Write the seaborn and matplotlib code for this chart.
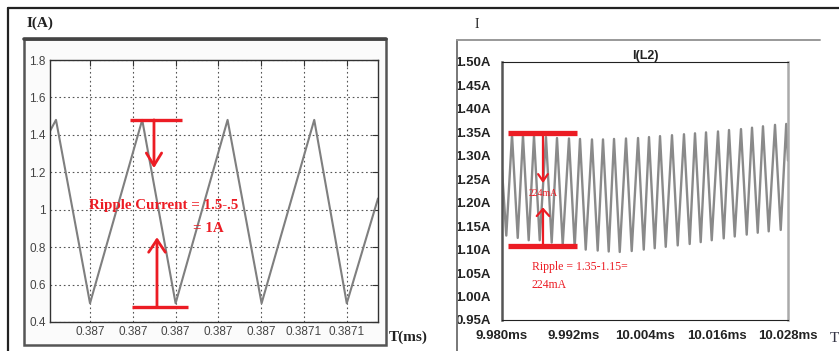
import matplotlib
matplotlib.use("Agg")
import numpy as np
import pandas as pd
import seaborn as sns
import matplotlib.pyplot as plt
from matplotlib.lines import Line2D
from matplotlib.patches import Rectangle

# ---- left panel: inductor current (A) vs time (ms)
left_t = [0.3869413, 0.3869441, 0.3869600, 0.3869844, 0.3870000,
          0.3870243, 0.3870402, 0.3870648, 0.3870800, 0.3870946]
left_i = [1.42, 1.48, 0.50, 1.48, 0.50, 1.48, 0.50, 1.48, 0.50, 1.06]
left_xticks = [0.38696, 0.38698, 0.38700, 0.38702, 0.38704, 0.38706, 0.38708]
left_xlabels = ["0.387", "0.387", "0.387", "0.387", "0.387", "0.3871", "0.3871"]
left_yticks = [0.4, 0.6, 0.8, 1.0, 1.2, 1.4, 1.6, 1.8]
left_ylabels = ["0.4", "0.6", "0.8", "1", "1.2", "1.4", "1.6", "1.8"]

# ---- right panel: I(L2) vs time (ms)
peak_t = [9.98168, 9.98352, 9.98537, 9.98738, 9.98923, 9.99124, 9.99309,
          9.99510, 9.99695, 9.99880, 10.00081, 10.00283, 10.00467, 10.00652,
          10.00853, 10.01054, 10.01239, 10.01424, 10.01625, 10.01810,
          10.02011, 10.02196, 10.02380, 10.02582, 10.02770]
peak_i = [1.345, 1.343, 1.342, 1.340, 1.338, 1.337, 1.336, 1.335, 1.335,
          1.336, 1.337, 1.338, 1.340, 1.342, 1.344, 1.346, 1.348, 1.350,
          1.352, 1.355, 1.357, 1.360, 1.363, 1.366, 1.368]
trough_t = [9.98072, 9.98264, 9.98448, 9.98633, 9.98834, 9.99019, 9.99220,
            9.99405, 9.99606, 9.99791, 9.99976, 10.00177, 10.00379, 10.00563,
            10.00748, 10.00949, 10.01150, 10.01335, 10.01520, 10.01721,
            10.01906, 10.02107, 10.02292, 10.02476, 10.02678]
trough_i = [1.130, 1.125, 1.120, 1.120, 1.115, 1.110, 1.105, 1.100, 1.098,
            1.096, 1.095, 1.097, 1.100, 1.103, 1.106, 1.109, 1.112, 1.116,
            1.120, 1.124, 1.128, 1.132, 1.136, 1.139, 1.142]
right_start = (9.98000, 1.27)
right_end = (10.02800, 1.29)
right_xticks = [9.980, 9.992, 10.004, 10.016, 10.028]
right_xlabels = ["9.980ms", "9.992ms", "10.004ms", "10.016ms", "10.028ms"]
right_yticks = [0.95, 1.00, 1.05, 1.10, 1.15, 1.20, 1.25, 1.30, 1.35, 1.40, 1.45, 1.50]
right_ylabels = ["%.2fA" % v for v in right_yticks]

left_df = pd.DataFrame({"t": left_t, "i": left_i})
right_df = pd.DataFrame({"t": peak_t + trough_t + [right_start[0], right_end[0]],
                         "i": peak_i + trough_i + [right_start[1], right_end[1]]})
right_df = right_df.sort_values("t")

sns.set_style("white")
plt.rcParams["font.family"] = ["Liberation Sans", "DejaVu Sans"]

RED = "#ec1c24"
SERIF = ["Liberation Serif", "DejaVu Serif"]

fig = plt.figure(figsize=(8.39, 3.51), dpi=100)

def fx(px):
    return px / 839.0

def fy(py):
    return 1 - py / 351.0

# outer frame lines
fig.add_artist(Line2D([fx(8), 1], [fy(8), fy(8)], color="#222", lw=1.6))
fig.add_artist(Line2D([fx(8), fx(8)], [fy(8), 0], color="#222", lw=1.6))
# left gray box (behind the axes)
box = Rectangle((fx(24), fy(345)), fx(362), (345 - 39) / 351.0,
                facecolor="#fbfbfb", edgecolor="#555", lw=1.8, zorder=-2)
fig.add_artist(box)
fig.add_artist(Line2D([fx(24), fx(386)], [fy(39), fy(39)], color="#444", lw=2.6, zorder=-1))
# right panel frame
fig.add_artist(Line2D([fx(457), fx(457)], [fy(40), 0], color="#777", lw=1.4))
fig.add_artist(Line2D([fx(457), fx(820)], [fy(40), fy(40)], color="#999", lw=1.4))

# ================= left axes =================
ax1 = fig.add_axes([fx(50), fy(322), fx(328), 262 / 351.0])
sns.lineplot(data=left_df, x="t", y="i", ax=ax1, color="#7f7f7f", lw=1.5, sort=False)
ax1.set_xlim(left_t[0], left_t[-1])
ax1.set_ylim(0.4, 1.8)
ax1.set_xticks(left_xticks)
ax1.set_xticklabels(left_xlabels)
ax1.set_yticks(left_yticks)
ax1.set_yticklabels(left_ylabels)
ax1.grid(True, linestyle=(0, (1.5, 2.5)), color="#555", lw=0.8)
ax1.tick_params(direction="in", length=4, top=True, right=True, labelsize=8.5,
                labelcolor="#444", color="#333", pad=3)
for s in ax1.spines.values():
    s.set_color("#333")
    s.set_linewidth(1.0)
ax1.set_xlabel("")
ax1.set_ylabel("")

# ripple annotation (left)
ax1.plot([0.3869787, 0.3870030], [1.48, 1.48], color=RED, lw=2.4, solid_capstyle="butt")
ax1.plot([0.3869796, 0.3870058], [0.479, 0.479], color=RED, lw=2.4, solid_capstyle="butt")
ax1.annotate("", xy=(0.3869899, 1.222), xytext=(0.3869899, 1.48),
             arrowprops=dict(arrowstyle="->,head_length=0.9,head_width=0.55",
                             color=RED, lw=2.0, shrinkA=0, shrinkB=0))
ax1.annotate("", xy=(0.3869913, 0.853), xytext=(0.3869913, 0.479),
             arrowprops=dict(arrowstyle="->,head_length=0.9,head_width=0.6",
                             color=RED, lw=2.0, shrinkA=0, shrinkB=0))
ax1.text(0.3869595, 1.025, "Ripple Current = 1.5-.5", color=RED, fontsize=10.8,
         family=SERIF, fontweight="bold", va="center", ha="left")
ax1.text(0.3870081, 0.90, "= 1A", color=RED, fontsize=10.8,
         family=SERIF, fontweight="bold", va="center", ha="left")

fig.text(fx(27), fy(23), "I(A)", family=SERIF, fontweight="bold", fontsize=11,
         color="#222", va="center", ha="left")
fig.text(fx(389), fy(337), "T(ms)", family=SERIF, fontweight="bold", fontsize=11,
         color="#222", va="center", ha="left")

# ================= right axes =================
ax2 = fig.add_axes([fx(502), fy(320), fx(286), 258 / 351.0])
sns.lineplot(data=right_df, x="t", y="i", ax=ax2, color="#8a8a8a", lw=1.7, sort=False)
ax2.set_xlim(9.980, 10.028)
ax2.set_ylim(0.95, 1.50)
ax2.set_xticks(right_xticks)
ax2.set_xticklabels(right_xlabels)
ax2.set_yticks(right_yticks)
ax2.set_yticklabels(right_ylabels)
ax2.tick_params(axis="y", direction="out", length=7, width=1.2, labelsize=9.5,
                color="#222", pad=1)
ax2.tick_params(axis="x", direction="out", length=5, width=1.0, labelsize=9.5,
                color="#222", pad=2)
for lbl in ax2.get_xticklabels() + ax2.get_yticklabels():
    lbl.set_fontweight("bold")
    lbl.set_color("#222")
ax2.spines["top"].set_color("#222")
ax2.spines["bottom"].set_color("#222")
ax2.spines["left"].set_color("#555")
ax2.spines["left"].set_linewidth(1.8)
ax2.spines["right"].set_color("#aaa")
ax2.spines["right"].set_linewidth(1.8)
ax2.set_xlabel("")
ax2.set_ylabel("")
ax2.set_title("I(L2)", fontsize=9, fontweight="bold", color="#222", pad=2)

# ripple annotation (right)
ax2.plot([9.98101, 9.99259], [1.348, 1.348], color=RED, lw=3.8, solid_capstyle="butt")
ax2.plot([9.98101, 9.99259], [1.107, 1.107], color=RED, lw=3.8, solid_capstyle="butt")
ax2.annotate("", xy=(9.98688, 1.242), xytext=(9.98688, 1.348),
             arrowprops=dict(arrowstyle="->,head_length=0.5,head_width=0.35",
                             color=RED, lw=1.6, shrinkA=0, shrinkB=0))
ax2.annotate("", xy=(9.98688, 1.19), xytext=(9.98688, 1.107),
             arrowprops=dict(arrowstyle="->,head_length=0.5,head_width=0.45",
                             color=RED, lw=1.6, shrinkA=0, shrinkB=0))
ax2.text(9.98688, 1.220, "224mA", color=RED, fontsize=7, family=SERIF,
         ha="center", va="center")
ax2.text(9.98503, 1.063, "Ripple = 1.35-1.15=", color=RED, fontsize=8.5,
         family=SERIF, ha="left", va="center")
ax2.text(9.98503, 1.025, "224mA", color=RED, fontsize=8.5,
         family=SERIF, ha="left", va="center")

fig.text(fx(477), fy(25), "I", family=SERIF, fontsize=10, color="#222",
         va="center", ha="center")
fig.text(fx(830), fy(338), "T", family=SERIF, fontsize=11, color="#334",
         va="center", ha="left")

fig.savefig("out.png", dpi=100)
